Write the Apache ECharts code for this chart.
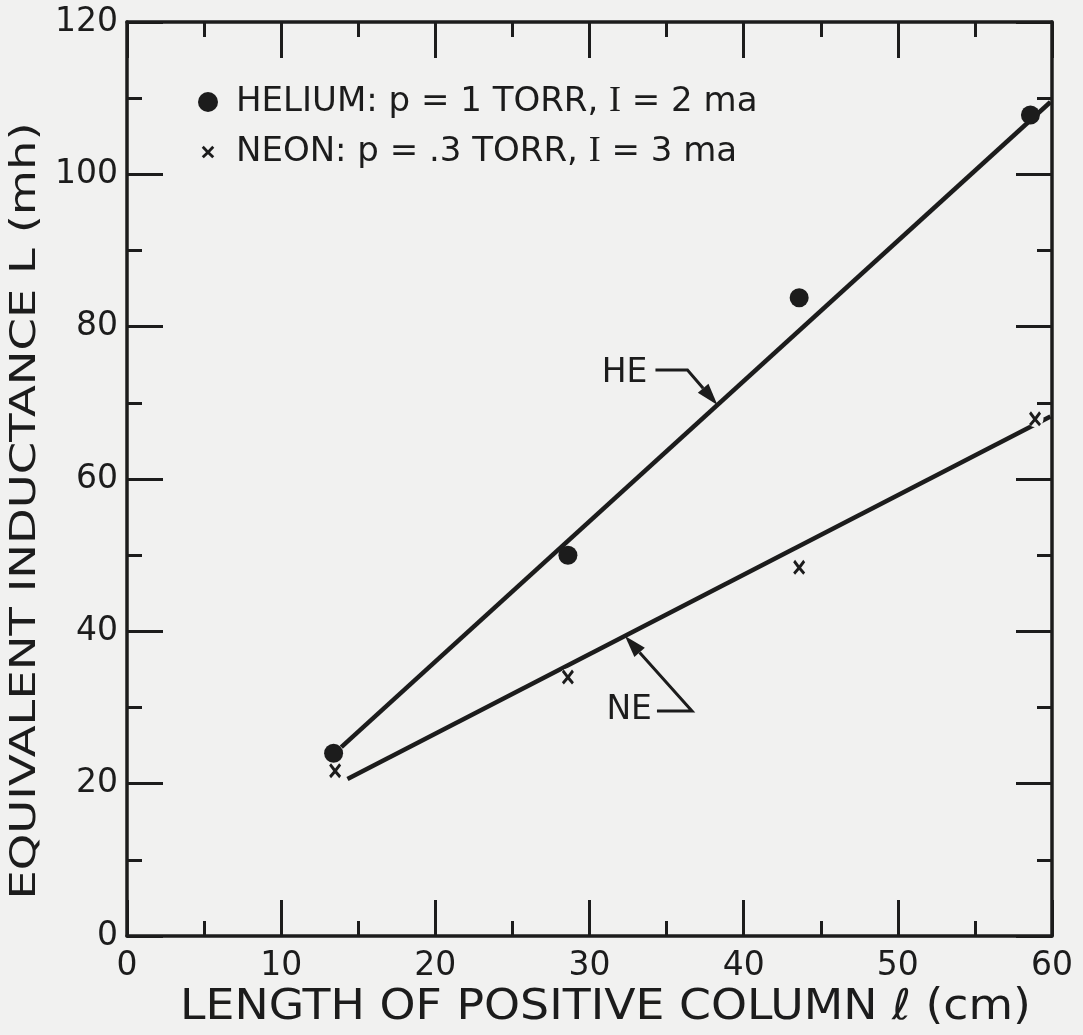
<!DOCTYPE html>
<html><head><meta charset="utf-8">
<script src="https://cdn.jsdelivr.net/npm/echarts@6/dist/echarts.min.js"></script>
<style>html,body{margin:0;padding:0;background:#f1f1f0;} #c{width:1083px;height:1035px;}</style>
</head><body><div id="c"></div>
<script>
// ---- data ----
const xTickLabels = ['0', '10', '20', '30', '40', '50', '60'];
const yTickLabels = ['0', '20', '40', '60', '80', '100', '120'];
const heliumX = [13.4, 28.6, 43.6, 58.6];
const heliumL = [24.0, 50.0, 83.8, 107.8];
const neonX = [13.5, 28.6, 43.6, 58.9];
const neonL = [21.7, 34.0, 48.4, 67.9];
const heFitX = [13.9, 59.9];
const heFitL = [24.8, 109.5];
const neFitX = [14.3, 59.9];
const neFitL = [20.6, 68.2];
const legendNames = ['HELIUM: p = 1 TORR, I = 2 ma', 'NEON: p = .3 TORR, I = 3 ma'];
const lineLabels = ['HE', 'NE'];
const heArrowX = 38.3;   // where the HE pointer touches the helium line
const neArrowX = 32.3;   // where the NE pointer touches the neon line
const xTitle = 'LENGTH OF POSITIVE COLUMN \u2113 (cm)';
const yTitle = 'EQUIVALENT INDUCTANCE L (mh)';

// ---- style ----
const ink = '#1c1c1c';
const paper = '#f1f1f0';
const font = 'DejaVu Sans';
const xSym = 'path://M0,1.6 L1.6,0 L5,3.6 L8.4,0 L10,1.6 L6.6,5.2 L10,8.4 L8.4,10 L5,6.8 L1.6,10 L0,8.4 L3.4,5.2 Z';
const xSymLegend = 'path://M-3,-3 L-3,-3 M13,13 L13,13 M0,1.6 L1.6,0 L5,3.6 L8.4,0 L10,1.6 L6.6,5.2 L10,8.4 L8.4,10 L5,6.8 L1.6,10 L0,8.4 L3.4,5.2 Z';

const zip = (a, b) => a.map((v, i) => [v, b[i]]);
const chart = echarts.init(document.getElementById('c'), null, {renderer: 'canvas'});

const tickCommon = {
  axisLine: {show: true, onZero: false, lineStyle: {color: ink, width: 3.5}},
  axisTick: {show: true, inside: true, length: 36, lineStyle: {color: ink, width: 3}},
  minorTick: {show: true, splitNumber: 2, length: 15, lineStyle: {color: ink, width: 3}},
  splitLine: {show: false},
  minorSplitLine: {show: false}
};

const option = {
  backgroundColor: paper,
  animation: false,
  grid: {left: 127, right: 31, top: 22, bottom: 99, containLabel: false, outerBoundsMode: 'none'},
  legend: {
    orient: 'vertical', left: 193, top: 77, itemGap: 10,
    itemWidth: 20, itemHeight: 20,
    textStyle: {fontFamily: font, fontSize: 34, lineHeight: 40, color: ink, padding: [0, 0, 0, 13],
      rich: {s: {fontFamily: 'Liberation Serif', fontSize: 36, lineHeight: 40, color: ink}}},
    formatter: n => n.replace(' I ', ' {s|I} '),
    data: [
      {name: legendNames[0], icon: 'circle', itemStyle: {color: ink, opacity: 1}},
      {name: legendNames[1], icon: xSymLegend, itemStyle: {color: ink, opacity: 1}}
    ]
  },
  xAxis: [
    Object.assign({
      type: 'value', position: 'bottom', min: 0, max: 60, interval: 10,
      axisLabel: {fontFamily: font, fontSize: 33, color: ink, margin: 14,
        formatter: v => xTickLabels[Math.round(v / 10)]}
    }, tickCommon),
    Object.assign({
      type: 'value', position: 'top', min: 0, max: 60, interval: 10,
      axisLabel: {show: false}
    }, tickCommon)
  ],
  yAxis: [
    Object.assign({
      type: 'value', position: 'left', min: 0, max: 120, interval: 20,
      axisLabel: {fontFamily: font, fontSize: 33, color: ink, margin: 9,
        formatter: v => yTickLabels[Math.round(v / 20)]}
    }, tickCommon),
    Object.assign({
      type: 'value', position: 'right', min: 0, max: 120, interval: 20,
      axisLabel: {show: false}
    }, tickCommon)
  ],
  series: [
    {name: 'HE fit', type: 'line', data: zip(heFitX, heFitL), symbol: 'none', z: 2,
      lineStyle: {color: ink, width: 4.5}, silent: true},
    {name: 'NE fit', type: 'line', data: zip(neFitX, neFitL), symbol: 'none', z: 2,
      lineStyle: {color: ink, width: 4.5}, silent: true},
    {name: 'neon halo', type: 'scatter', data: zip(neonX, neonL), symbol: 'circle', symbolSize: 17, z: 3,
      itemStyle: {color: paper, opacity: 1}, silent: true},
    {name: legendNames[0], type: 'scatter', data: zip(heliumX, heliumL), symbol: 'circle', symbolSize: 19, z: 4,
      itemStyle: {color: ink, opacity: 1}},
    {name: legendNames[1], type: 'scatter', data: zip(neonX, neonL), symbol: xSym, symbolSize: [12, 15], z: 4,
      itemStyle: {color: ink, opacity: 1}}
  ]
};
chart.setOption(option);

// ---- HE / NE pointer annotations, anchored on the fitted lines ----
function onLine(xs, ys, x) { return ys[0] + (ys[1] - ys[0]) * (x - xs[0]) / (xs[1] - xs[0]); }
function pointer(tip, elbow, end, textPos, label) {
  const dx = tip[0] - elbow[0], dy = tip[1] - elbow[1];
  const len = Math.hypot(dx, dy), ux = dx / len, uy = dy / len;
  const hl = 22, hw = 7;
  const bx = tip[0] - ux * hl, by = tip[1] - uy * hl;
  return [
    {type: 'polyline', shape: {points: [end, elbow, [bx, by]]}, style: {stroke: ink, lineWidth: 3, fill: null}, z: 10},
    {type: 'polygon', shape: {points: [tip, [bx - uy * hw, by + ux * hw], [bx + uy * hw, by - ux * hw]]}, style: {fill: ink}, z: 10},
    {type: 'text', x: textPos[0], y: textPos[1], style: {text: label, fontFamily: font, fontSize: 33, fill: ink, align: 'right', verticalAlign: 'middle'}, z: 10}
  ];
}
const heTip = chart.convertToPixel({gridIndex: 0}, [heArrowX, onLine(heFitX, heFitL, heArrowX)]);
const neTip = chart.convertToPixel({gridIndex: 0}, [neArrowX, onLine(neFitX, neFitL, neArrowX)]);
const g = [];
g.push(...pointer(heTip, [heTip[0] - 30, heTip[1] - 35], [heTip[0] - 62, heTip[1] - 35], [heTip[0] - 70, heTip[1] - 31], lineLabels[0]));
g.push(...pointer(neTip, [neTip[0] + 67, neTip[1] + 75], [neTip[0] + 32, neTip[1] + 75], [neTip[0] + 27, neTip[1] + 74], lineLabels[1]));

// ---- axis titles (wide lettering as in the drawing) ----
const grid = chart.getModel().getComponent('grid', 0).coordinateSystem.getRect();
g.push({type: 'text', x: grid.x + grid.width / 2 + 16, y: grid.y + grid.height + 72, scaleX: 1.09,
  style: {text: xTitle, fontFamily: font, fontSize: 42, fill: ink, align: 'center', verticalAlign: 'middle'}});
g.push({type: 'text', x: grid.x - 101, y: grid.y + grid.height / 2 + 32, rotation: Math.PI / 2, scaleX: 1.29,
  style: {text: yTitle, fontFamily: font, fontSize: 36, fill: ink, align: 'center', verticalAlign: 'middle'}});
chart.setOption({graphic: g});
</script>
</body></html>
